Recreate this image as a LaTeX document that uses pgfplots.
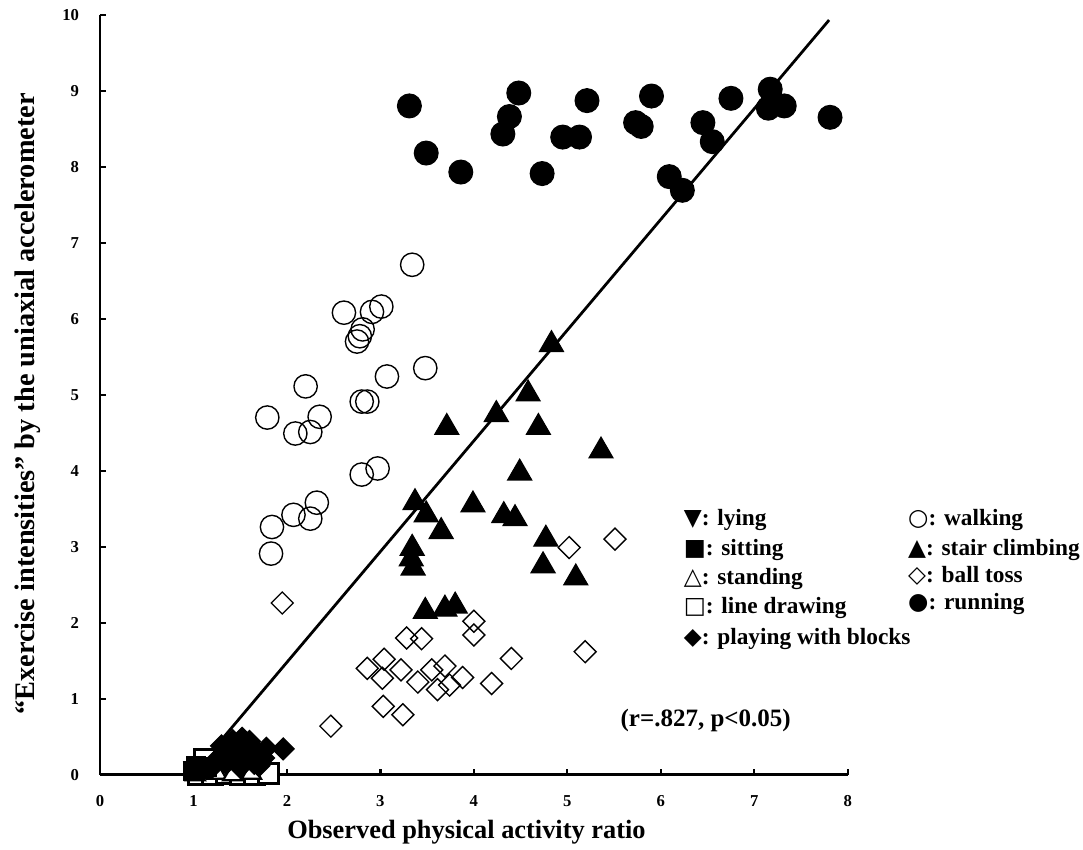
\documentclass[border=0pt]{standalone}
\usepackage{pgfplots}
\pgfplotsset{compat=1.18}
\usepackage{fontspec}
\setmainfont{Liberation Serif}
\newfontfamily\sym{DejaVu Sans}
\begin{document}
\begin{tikzpicture}
\useasboundingbox (0,0) rectangle (390pt,306pt);
\begin{axis}[
  at={(36pt,27pt)}, anchor=south west,
  width=269.3pt, height=273.7pt, scale only axis,
  xmin=0, xmax=8, ymin=0, ymax=10,
  axis lines=left, axis line style={-, line width=1pt},
  xtick={0,...,8}, ytick={0,...,10},
  tick align=inside, major tick length=2pt,
  tick style={line width=0.8pt, black},
  ticklabel style={font=\fontsize{6}{7}\selectfont\bfseries},
  /pgf/number format/assume math mode=true,
  xticklabel style={yshift=-4pt},
  yticklabel style={xshift=-4pt},
  clip=false,
]
% line drawing (open squares)
\addplot[only marks, mark=square*, mark size=3.6pt, mark options={fill=white, draw=black, line width=1pt}] coordinates {
(1.05,0.00) (1.20,0.00) (1.35,0.02) (1.50,0.00) (1.65,0.00) (1.80,0.02) (1.12,0.20)
};
% standing (open triangles)
\addplot[only marks, mark=triangle*, mark size=4pt, mark options={fill=white, draw=black, line width=0.8pt}] coordinates {
(1.02,0.00) (1.25,0.02) (1.42,0.00) (1.62,0.02)
};
% sitting (filled squares)
\addplot[only marks, mark=square*, mark size=3.4pt, black] coordinates {
(1.00,0.05) (1.08,0.07) (1.15,0.10) (1.03,0.12)
};
% lying (filled down triangles)
\addplot[only marks, mark=triangle*, mark size=4pt, mark options={rotate=180}, black] coordinates {
(1.00,0.10) (1.10,0.06)
};
% playing with blocks (filled diamonds)
\addplot[only marks, mark=square*, mark size=2.8pt, mark options={rotate=45}, black] coordinates {
(1.25,0.20) (1.32,0.28) (1.40,0.33) (1.48,0.35) (1.55,0.33) (1.62,0.36) (1.68,0.30)
(1.75,0.22) (1.45,0.20) (1.58,0.22) (1.35,0.15) (1.70,0.12) (1.20,0.10) (1.50,0.10)
(1.65,0.15) (1.30,0.38) (1.42,0.45) (1.52,0.48) (1.60,0.44) (1.78,0.35) (1.96,0.34)
};
% ball toss (open diamonds)
\addplot[only marks, mark=square, mark size=2.8pt, mark options={rotate=45, line width=0.5pt}, black] coordinates {
(1.95,2.26) (2.47,0.64) (2.86,1.40) (3.04,1.52) (3.02,1.27) (3.22,1.38) (3.03,0.90)
(3.24,0.79) (3.28,1.80) (3.44,1.79) (3.40,1.22) (3.55,1.38) (3.69,1.43) (3.61,1.12)
(3.74,1.18) (3.88,1.28) (4.00,2.02) (4.00,1.84) (4.40,1.53) (4.19,1.20) (5.19,1.62)
(5.02,2.99) (5.51,3.10)
};
% walking (open circles)
\addplot[only marks, mark=o, mark size=4.2pt, mark options={line width=0.5pt}, black] coordinates {
(3.34,6.71) (2.61,6.08) (2.91,6.09) (3.01,6.16) (2.81,5.86) (2.78,5.77) (2.75,5.70)
(3.07,5.24) (3.48,5.35) (2.20,5.11) (1.79,4.70) (2.35,4.71) (2.09,4.49) (2.25,4.51)
(2.80,4.91) (2.86,4.91) (2.97,4.03) (2.80,3.95) (2.32,3.58) (2.07,3.42) (2.25,3.37)
(1.84,3.26) (1.83,2.91)
};
% stair climbing (filled triangles)
\addplot[only marks, mark=triangle*, mark size=5pt, black] coordinates {
(4.83,5.66) (4.58,5.01) (4.24,4.74) (3.71,4.57) (4.69,4.57) (5.36,4.26) (4.49,3.97)
(3.37,3.58) (3.99,3.55) (3.49,3.42) (4.32,3.41) (4.44,3.37) (3.65,3.20) (4.77,3.10)
(3.34,2.98) (3.33,2.84) (3.35,2.72) (4.74,2.75) (5.09,2.59) (3.48,2.15) (3.69,2.18)
(3.80,2.22)
};
% running (filled circles)
\addplot[only marks, mark=*, mark size=4.3pt, black] coordinates {
(3.31,8.80) (3.49,8.18) (3.86,7.93) (4.48,8.97) (4.38,8.66) (4.31,8.43) (4.73,7.91)
(5.21,8.87) (4.95,8.39) (5.13,8.39) (5.90,8.93) (5.73,8.58) (5.79,8.53) (6.45,8.58)
(6.55,8.33) (6.09,7.87) (6.23,7.69) (6.75,8.90) (7.17,9.02) (7.15,8.77) (7.32,8.80)
(7.81,8.65)
};
% regression line
\addplot[black, line width=1pt, no marks] coordinates {(1.19,0.30) (7.80,9.93)};

\node[font=\fontsize{9}{10}\selectfont\bfseries] at (axis cs:6.48,0.72) {(r=.827, p<0.05)};

\begin{scope}[every node/.style={anchor=base west, inner sep=0pt, font=\fontsize{8.4}{9}\selectfont\bfseries}]
\node at (axis cs:6.24,3.28) {{\sym ▼}: lying};
\node at (axis cs:6.24,2.88) {{\sym ■}: sitting};
\node at (axis cs:6.24,2.50) {{\sym △}: standing};
\node at (axis cs:6.24,2.12) {{\sym □}: line drawing};
\node at (axis cs:6.24,1.72) {{\sym ◆}: playing with blocks};
\node at (axis cs:8.64,3.28) {{\sym ○}: walking};
\node at (axis cs:8.64,2.89) {{\sym ▲}: stair climbing};
\node at (axis cs:8.64,2.53) {{\sym ◇}: ball toss};
\node at (axis cs:8.64,2.17) {{\sym ●}: running};
\end{scope}

\node[font=\fontsize{9.5}{11}\selectfont\bfseries] at ([yshift=-20.5pt]rel axis cs:0.49,0) {Observed physical activity ratio};
\node[rotate=90, font=\fontsize{10.2}{11}\selectfont\bfseries] at ([xshift=-26pt]rel axis cs:0,0.488) {“Exercise intensities” by the uniaxial accelerometer};
\end{axis}
\end{tikzpicture}
\end{document}
